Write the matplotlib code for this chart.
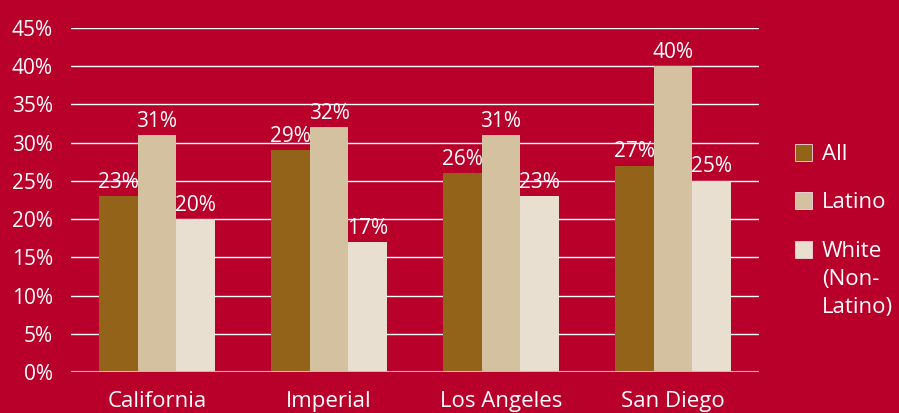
import matplotlib.pyplot as plt
from matplotlib.patches import Rectangle
import numpy as np

# data
regions = ['California', 'Imperial', 'Los Angeles', 'San Diego']
groups = ['All', 'Latino', 'White\n(Non-\nLatino)']
all_vals = [23, 29, 26, 27]
latino_vals = [31, 32, 31, 40]
white_vals = [20, 17, 23, 25]
yticks = [0, 5, 10, 15, 20, 25, 30, 35, 40, 45]

bg = '#B8002A'
colors = ['#94631A', '#D4C1A0', '#E8DFD0']
plt.rcParams['font.family'] = ['Open Sans', 'DejaVu Sans']

fig = plt.figure(figsize=(8.99, 4.13), dpi=100, facecolor=bg)
ax = fig.add_axes([71/899, 41/413, 688/899, 344/413])
ax.set_facecolor(bg)

x = np.arange(len(regions))
w = 0.225
series = [all_vals, latino_vals, white_vals]
for i, vals in enumerate(series):
    bars = ax.bar(x + (i - 1) * w, vals, width=w, color=colors[i], zorder=3)
    for b, v in zip(bars, vals):
        ax.text(b.get_x() + b.get_width() / 2, v + 0.45, f'{v}%', ha='center', va='bottom',
                color='white', fontsize=15, zorder=4)

ax.set_xlim(-0.5, 3.5)
ax.set_ylim(0, 45)
ax.set_yticks(yticks)
ax.set_yticklabels([f'{t}%' for t in yticks])
ax.set_xticks(x)
ax.set_xticklabels(regions)
ax.tick_params(axis='both', length=0, colors='white', labelsize=15)
ax.tick_params(axis='x', pad=14, labelsize=16)
ax.tick_params(axis='y', pad=13)
for t in yticks[1:]:
    ax.axhline(t, color='white', lw=1, zorder=1)
ax.axhline(0, color='#E8A8B8', lw=1.5, zorder=4)
for s in ax.spines.values():
    s.set_visible(False)

# legend
ys = [153, 201, 250]
for c, g, yy in zip(colors, groups, ys):
    fig.patches.append(Rectangle((795/899, 1 - (yy + 8)/413), 17/899, 17/413,
                                 transform=fig.transFigure, facecolor=c,
                                 edgecolor='#F0D8DC', lw=0.6))
    fig.text(822/899, 1 - (yy - 9)/413, g, color='white', fontsize=16,
             va='top', ha='left', linespacing=1.45)

fig.savefig('out.png', dpi=100, facecolor=bg)
